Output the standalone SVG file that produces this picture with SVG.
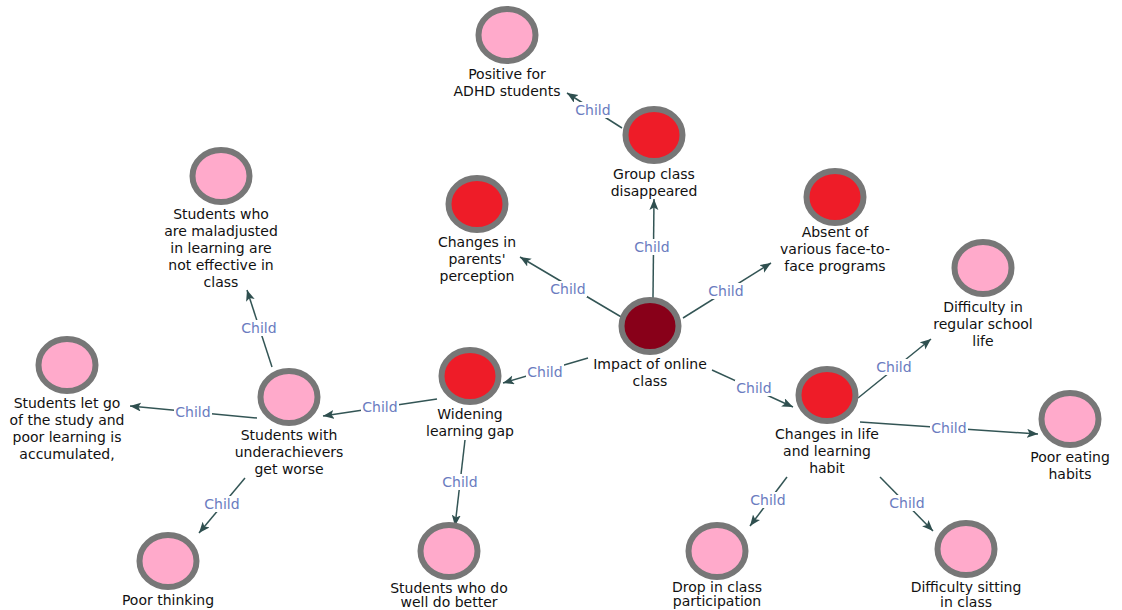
<svg xmlns="http://www.w3.org/2000/svg" width="1122" height="610" viewBox="0 0 1122 610">
<style>
.n{stroke:#777;stroke-width:6}
.leaf{fill:#ffaacb}
.mid{fill:#ee1c28}
.root{fill:#880019}
.t{font-family:"DejaVu Sans",sans-serif;font-size:14px;fill:#111;text-anchor:middle}
.e{stroke:#335555;stroke-width:1.5;fill:none;marker-end:url(#ah)}
.lb{fill:#fff}
.lt{font-family:"DejaVu Sans",sans-serif;font-size:14px;fill:#6a7cc0;text-anchor:middle}
</style>
<defs>
<marker id="ah" markerUnits="userSpaceOnUse" markerWidth="12" markerHeight="10" refX="11" refY="4.5" orient="auto">
<path d="M0,0 L11,4.5 L0,9 L2.5,4.5 z" fill="#2f4f4f"/>
</marker>
</defs>
<rect width="1122" height="610" fill="#fff"/>
<g id="connectors">
<line class="e" x1="622" y1="128" x2="567" y2="93"/>
<line class="e" x1="653" y1="298" x2="654" y2="199"/>
<line class="e" x1="623" y1="318" x2="520" y2="257"/>
<line class="e" x1="683" y1="318" x2="771" y2="263"/>
<line class="e" x1="588" y1="358" x2="503" y2="383"/>
<line class="e" x1="712" y1="370" x2="793" y2="407"/>
<line class="e" x1="437" y1="399" x2="323" y2="416"/>
<line class="e" x1="465" y1="440" x2="455" y2="526"/>
<line class="e" x1="257" y1="418" x2="130" y2="406"/>
<line class="e" x1="272" y1="367" x2="247" y2="290"/>
<line class="e" x1="245" y1="478" x2="199" y2="533"/>
<line class="e" x1="858" y1="398" x2="931" y2="339"/>
<line class="e" x1="860" y1="422" x2="1038" y2="434"/>
<line class="e" x1="787" y1="477" x2="750" y2="526"/>
<line class="e" x1="880" y1="477" x2="933" y2="531"/>
<g id="edge-labels">
<rect class="lb" x="574" y="102" width="38" height="16"/><text class="lt" x="593" y="115">Child</text>
<rect class="lb" x="633" y="239" width="38" height="16"/><text class="lt" x="652" y="252">Child</text>
<rect class="lb" x="549" y="281" width="38" height="16"/><text class="lt" x="568" y="294">Child</text>
<rect class="lb" x="707" y="283" width="38" height="16"/><text class="lt" x="726" y="296">Child</text>
<rect class="lb" x="526" y="364" width="38" height="16"/><text class="lt" x="545" y="377">Child</text>
<rect class="lb" x="735" y="380" width="38" height="16"/><text class="lt" x="754" y="393">Child</text>
<rect class="lb" x="361" y="399" width="38" height="16"/><text class="lt" x="380" y="412">Child</text>
<rect class="lb" x="441" y="474" width="38" height="16"/><text class="lt" x="460" y="487">Child</text>
<rect class="lb" x="174" y="404" width="38" height="16"/><text class="lt" x="193" y="417">Child</text>
<rect class="lb" x="240" y="320" width="38" height="16"/><text class="lt" x="259" y="333">Child</text>
<rect class="lb" x="203" y="496" width="38" height="16"/><text class="lt" x="222" y="509">Child</text>
<rect class="lb" x="875" y="359" width="38" height="16"/><text class="lt" x="894" y="372">Child</text>
<rect class="lb" x="930" y="420" width="38" height="16"/><text class="lt" x="949" y="433">Child</text>
<rect class="lb" x="749" y="492" width="38" height="16"/><text class="lt" x="768" y="505">Child</text>
<rect class="lb" x="888" y="495" width="38" height="16"/><text class="lt" x="907" y="508">Child</text>
</g>
</g>
<g id="n-adhd"><ellipse class="n leaf" cx="507" cy="35" rx="28.5" ry="26"/><text class="t" x="507" y="79">Positive for<tspan x="507" dy="17">ADHD students</tspan></text></g>
<g id="n-group"><ellipse class="n mid" cx="654" cy="135" rx="28.5" ry="26"/><text class="t" x="654" y="179">Group class<tspan x="654" dy="17">disappeared</tspan></text></g>
<g id="n-parents"><ellipse class="n mid" cx="477" cy="204" rx="28.5" ry="26"/><text class="t" x="477" y="247">Changes in<tspan x="477" dy="17">parents'</tspan><tspan x="477" dy="17">perception</tspan></text></g>
<g id="n-absent"><ellipse class="n mid" cx="835" cy="197" rx="28.5" ry="26"/><text class="t" x="835" y="237">Absent of<tspan x="835" dy="17">various face-to-</tspan><tspan x="835" dy="17">face programs</tspan></text></g>
<g id="n-impact"><ellipse class="n root" cx="650" cy="326" rx="28.5" ry="26"/><text class="t" x="650" y="369">Impact of online<tspan x="650" dy="17">class</tspan></text></g>
<g id="n-life"><ellipse class="n mid" cx="827" cy="395" rx="28.5" ry="26"/><text class="t" x="827" y="439">Changes in life<tspan x="827" dy="17">and learning</tspan><tspan x="827" dy="17">habit</tspan></text></g>
<g id="n-regular"><ellipse class="n leaf" cx="983" cy="268" rx="28.5" ry="26"/><text class="t" x="983" y="312">Difficulty in<tspan x="983" dy="17">regular school</tspan><tspan x="983" dy="17">life</tspan></text></g>
<g id="n-eating"><ellipse class="n leaf" cx="1070" cy="419" rx="28.5" ry="26"/><text class="t" x="1070" y="462">Poor eating<tspan x="1070" dy="17">habits</tspan></text></g>
<g id="n-sitting"><ellipse class="n leaf" cx="966" cy="549" rx="28.5" ry="26"/><text class="t" x="966" y="592">Difficulty sitting<tspan x="966" dy="15">in class</tspan></text></g>
<g id="n-drop"><ellipse class="n leaf" cx="717" cy="551" rx="28.5" ry="26"/><text class="t" x="717" y="592">Drop in class<tspan x="717" dy="14">participation</tspan></text></g>
<g id="n-welldo"><ellipse class="n leaf" cx="449" cy="551" rx="28.5" ry="26"/><text class="t" x="449" y="593">Students who do<tspan x="449" dy="14">well do better</tspan></text></g>
<g id="n-thinking"><ellipse class="n leaf" cx="168" cy="561" rx="28.5" ry="26"/><text class="t" x="168" y="605">Poor thinking</text></g>
<g id="n-widening"><ellipse class="n mid" cx="470" cy="376" rx="28.5" ry="26"/><text class="t" x="470" y="419">Widening<tspan x="470" dy="17">learning gap</tspan></text></g>
<g id="n-under"><ellipse class="n leaf" cx="289" cy="397" rx="28.5" ry="26"/><text class="t" x="289" y="440">Students with<tspan x="289" dy="17">underachievers</tspan><tspan x="289" dy="17">get worse</tspan></text></g>
<g id="n-letgo"><ellipse class="n leaf" cx="67" cy="365" rx="28.5" ry="26"/><text class="t" x="67" y="408">Students let go<tspan x="67" dy="17">of the study and</tspan><tspan x="67" dy="17">poor learning is</tspan><tspan x="67" dy="17">accumulated,</tspan></text></g>
<g id="n-maladjusted"><ellipse class="n leaf" cx="221" cy="176" rx="28.5" ry="26"/><text class="t" x="221" y="219">Students who<tspan x="221" dy="17">are maladjusted</tspan><tspan x="221" dy="17">in learning are</tspan><tspan x="221" dy="17">not effective in</tspan><tspan x="221" dy="17">class</tspan></text></g>
</svg>
